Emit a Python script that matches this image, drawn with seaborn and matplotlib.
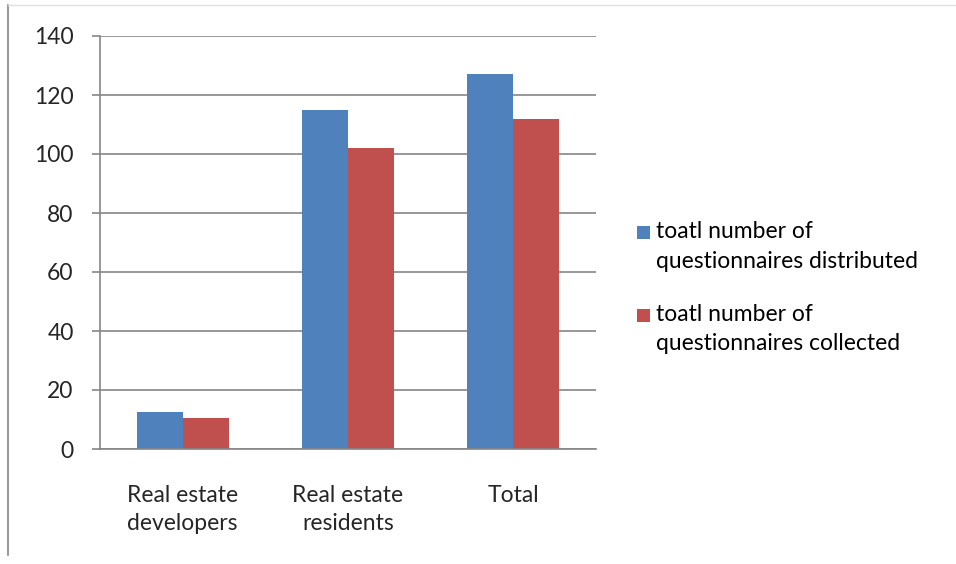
import matplotlib
matplotlib.use("Agg")
import matplotlib.pyplot as plt
import pandas as pd
import seaborn as sns
from matplotlib.lines import Line2D
from matplotlib.patches import Rectangle

categories = ["Real estate\ndevelopers", "Real estate\nresidents", "Total"]
distributed = [12.5, 115, 127]
collected = [10.5, 102, 112]
series_names = [
    "toatl number of\nquestionnaires distributed",
    "toatl number of\nquestionnaires collected",
]
colors = ["#4F81BD", "#C0504D"]

df = pd.DataFrame({
    "category": categories * 2,
    "value": distributed + collected,
    "series": [series_names[0]] * 3 + [series_names[1]] * 3,
})

sns.set_style("white")
plt.rcParams["font.family"] = ["Lato", "DejaVu Sans"]
FS = 16.5

W, H = 956, 564
fig = plt.figure(figsize=(W / 100, H / 100), dpi=100)
ax = fig.add_axes([100 / W, 1 - 449 / H, 496 / W, 413 / H])

sns.barplot(data=df, x="category", y="value", hue="series",
            palette=colors, width=0.557, saturation=1, linewidth=0, ax=ax)
ax.get_legend().remove()

ax.set_xlim(-0.5, 2.5)
ax.set_ylim(0, 140)
ax.set_yticks(range(0, 141, 20))
ax.grid(axis="y", color="#868686", lw=1.2)
ax.set_axisbelow(True)
for s in ["top", "right"]:
    ax.spines[s].set_visible(False)
for s in ["left", "bottom"]:
    ax.spines[s].set_color("#868686")
    ax.spines[s].set_linewidth(1.2)

# category labels centered, ticks at category boundaries
ax.set_xticks([0, 1, 2])
ax.set_xticklabels(categories, fontsize=FS, linespacing=1.4)
ax.tick_params(axis="x", length=0, pad=26)
ax.set_xticks([-0.5, 0.5, 1.5, 2.5], minor=True)
ax.tick_params(axis="x", which="minor", length=6, color="#868686", width=1.2)
ax.tick_params(axis="y", length=6, color="#868686", width=1.2, labelsize=FS, pad=13)
ax.tick_params(axis="both", direction="out", left=True, bottom=True)
ax.set_xlabel("")
ax.set_ylabel("")

# legend: square aligned with the first text line, as in the original chart
first_line_y = [232, 315]
for name, col, ly in zip(series_names, colors, first_line_y):
    fig.add_artist(Rectangle((637 / W, 1 - (ly + 6.5) / H), 13 / W, 13 / H,
                             transform=fig.transFigure, color=col, lw=0))
    fig.text(656 / W, 1 - (ly - 11) / H, name, fontsize=FS, va="top",
             ha="left", linespacing=1.5, color="#000000")

# chart frame remnants
fig.add_artist(Line2D([8 / W, 8 / W], [1 - 555 / H, 1 - 5 / H],
                      transform=fig.transFigure, color="#9a9a9a", lw=1.5))
fig.add_artist(Line2D([8 / W, 1], [1 - 5 / H, 1 - 5 / H],
                      transform=fig.transFigure, color="#e0e0e0", lw=1))

fig.savefig("out.png", dpi=100)
